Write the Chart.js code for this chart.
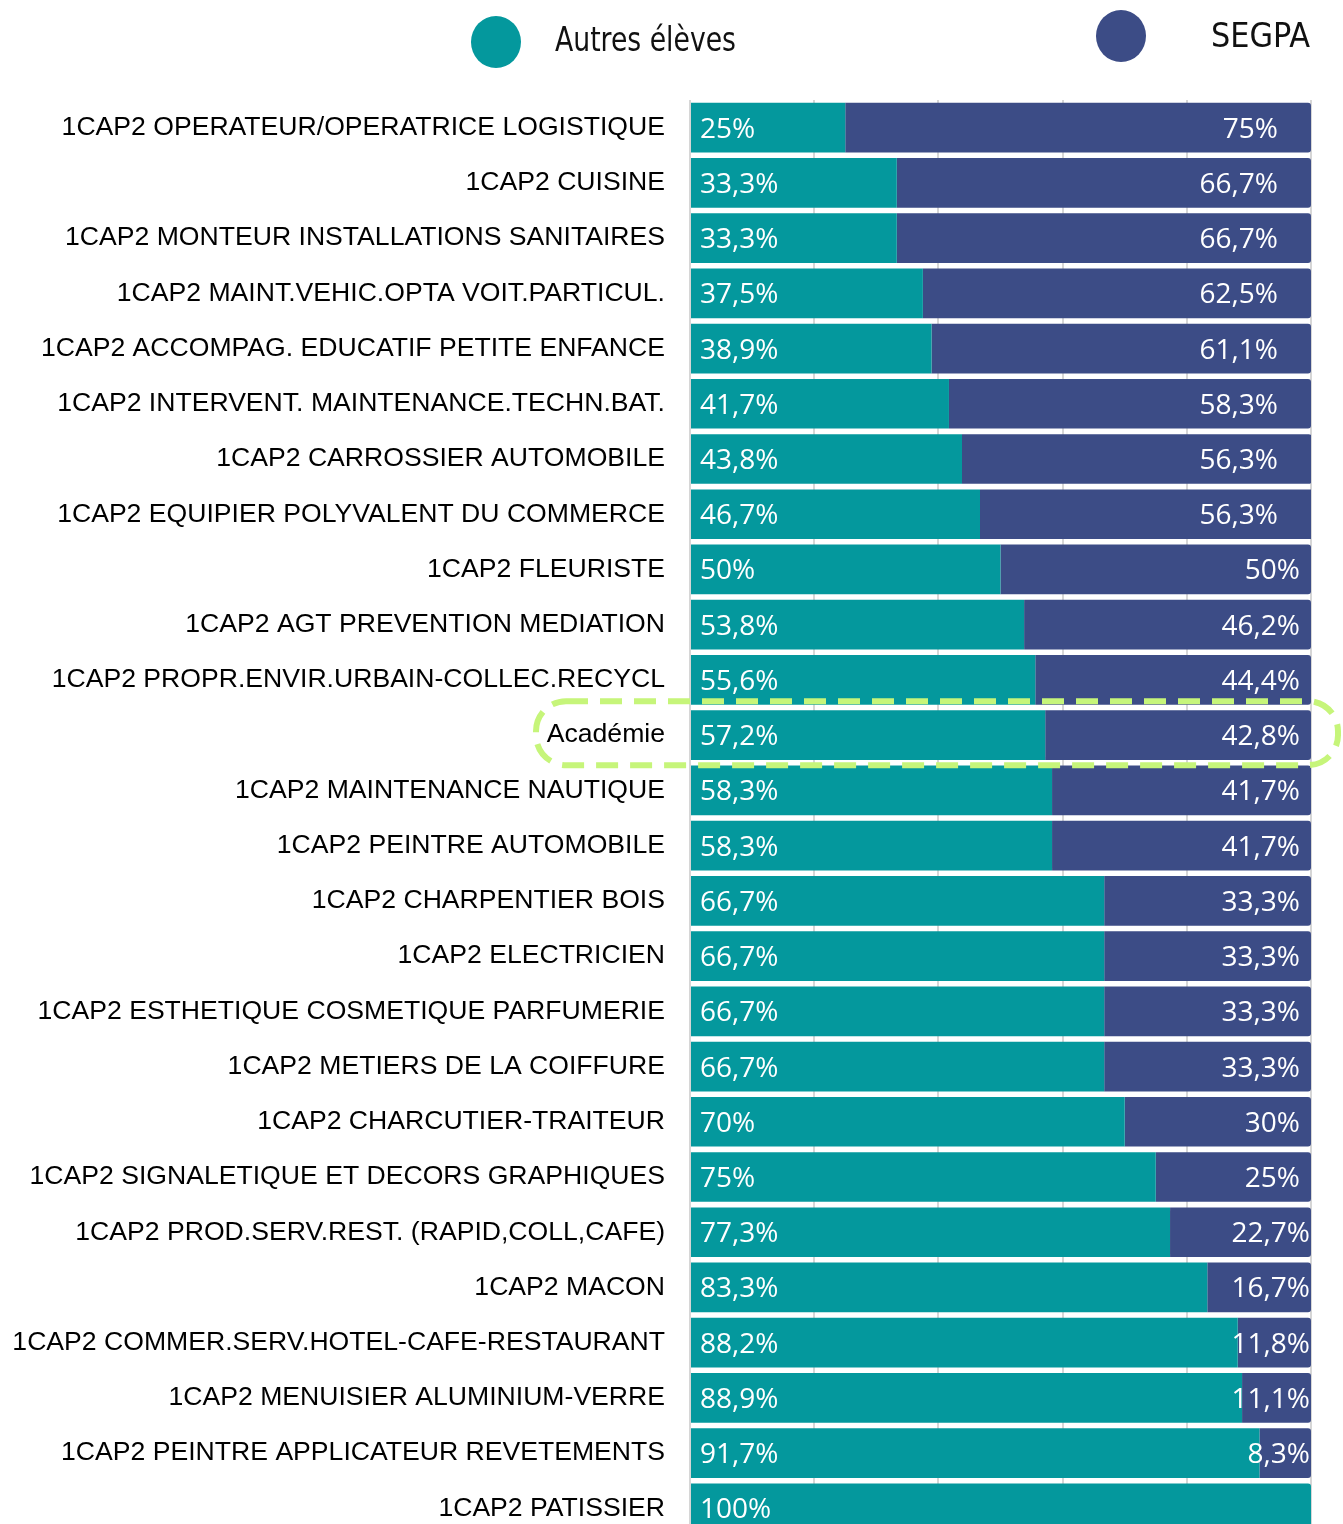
<!DOCTYPE html>
<html>
<head>
<meta charset="utf-8">
<script src="https://cdn.jsdelivr.net/npm/chart.js@4"></script>
<style>
  html, body { margin: 0; padding: 0; background: #fff; overflow: hidden; }
  #segpaChart { position: absolute; left: 0; top: 0; }
</style>
</head>
<body>
<canvas id="segpaChart" width="1343" height="1536"></canvas>
<script>
const formations = [
    '1CAP2 OPERATEUR/OPERATRICE LOGISTIQUE',
    '1CAP2 CUISINE',
    '1CAP2 MONTEUR INSTALLATIONS SANITAIRES',
    '1CAP2 MAINT.VEHIC.OPTA VOIT.PARTICUL.',
    '1CAP2 ACCOMPAG. EDUCATIF PETITE ENFANCE',
    '1CAP2 INTERVENT. MAINTENANCE.TECHN.BAT.',
    '1CAP2 CARROSSIER AUTOMOBILE',
    '1CAP2 EQUIPIER POLYVALENT DU COMMERCE',
    '1CAP2 FLEURISTE',
    '1CAP2 AGT PREVENTION MEDIATION',
    '1CAP2 PROPR.ENVIR.URBAIN-COLLEC.RECYCL',
    'Académie',
    '1CAP2 MAINTENANCE NAUTIQUE',
    '1CAP2 PEINTRE AUTOMOBILE',
    '1CAP2 CHARPENTIER BOIS',
    '1CAP2 ELECTRICIEN',
    '1CAP2 ESTHETIQUE COSMETIQUE PARFUMERIE',
    '1CAP2 METIERS DE LA COIFFURE',
    '1CAP2 CHARCUTIER-TRAITEUR',
    '1CAP2 SIGNALETIQUE ET DECORS GRAPHIQUES',
    '1CAP2 PROD.SERV.REST. (RAPID,COLL,CAFE)',
    '1CAP2 MACON',
    '1CAP2 COMMER.SERV.HOTEL-CAFE-RESTAURANT',
    '1CAP2 MENUISIER ALUMINIUM-VERRE',
    '1CAP2 PEINTRE APPLICATEUR REVETEMENTS',
    '1CAP2 PATISSIER'
];
const autresEleves = [25, 33.3, 33.3, 37.5, 38.9, 41.7, 43.8, 46.7, 50, 53.8, 55.6, 57.2, 58.3, 58.3,
    66.7, 66.7, 66.7, 66.7, 70, 75, 77.3, 83.3, 88.2, 88.9, 91.7, 100];
const segpa = [75, 66.7, 66.7, 62.5, 61.1, 58.3, 56.3, 56.3, 50, 46.2, 44.4, 42.8, 41.7, 41.7,
    33.3, 33.3, 33.3, 33.3, 30, 25, 22.7, 16.7, 11.8, 11.1, 8.3, 0];
const xTicks = [0, 20, 40, 60, 80, 100];
const highlighted = 'Académie';

const teal = '#04989d';
const navy = '#3c4c86';

function fmt(v) {
    return String(v).replace('.', ',') + '%';
}

// value labels inside the bars
const barLabels = {
    id: 'barLabels',
    afterDatasetsDraw(chart) {
        const ctx = chart.ctx;
        const area = chart.chartArea;
        ctx.save();
        ctx.font = '28px "Open Sans"';
        ctx.fillStyle = '#fff';
        ctx.textBaseline = 'middle';
        chart.data.datasets.forEach((ds, di) => {
            chart.getDatasetMeta(di).data.forEach((bar, i) => {
                const v = ds.data[i];
                if (!v) return;
                if (di === 0) {
                    ctx.textAlign = 'left';
                    ctx.fillText(fmt(v), Math.min(bar.base, bar.x) + 9, bar.y + 2);
                } else {
                    const pad = v >= 55 ? 33 : (v >= 25 ? 11 : 1);
                    ctx.textAlign = 'right';
                    ctx.fillText(fmt(v), Math.min(bar.x, area.right) - pad, bar.y + 2);
                }
            });
        });
        ctx.restore();
    }
};

// dashed frame around the Académie row
const highlightRow = {
    id: 'highlightRow',
    afterDraw(chart) {
        const y = chart.scales.y;
        const idx = chart.data.labels.indexOf(highlighted);
        if (idx < 0) return;
        const cy = y.getPixelForValue(idx);
        const ctx = chart.ctx;
        ctx.save();
        ctx.strokeStyle = '#c6f57a';
        ctx.lineWidth = 6;
        ctx.setLineDash([22, 12]);
        ctx.beginPath();
        ctx.roundRect(536, cy - 34, 802, 64, 30);
        ctx.stroke();
        ctx.restore();
    }
};

// legend drawn at the top
const topLegend = {
    id: 'topLegend',
    afterDraw(chart) {
        const ctx = chart.ctx;
        const spots = [{ cx: 496, cy: 42, tx: 555, ty: 42, w: 181 }, { cx: 1121, cy: 36, tx: 1211, ty: 38, w: 99 }];
        ctx.save();
        chart.data.datasets.forEach((ds, i) => {
            const s = spots[i];
            ctx.fillStyle = ds.backgroundColor;
            ctx.beginPath();
            ctx.ellipse(s.cx, s.cy, 25, 26, 0, 0, Math.PI * 2);
            ctx.fill();
            ctx.fillStyle = '#111';
            ctx.font = '34px "DejaVu Sans Condensed", "DejaVu Sans", sans-serif';
            ctx.textAlign = 'left';
            ctx.textBaseline = 'middle';
            ctx.fillText(ds.label, s.tx, s.ty, s.w);
        });
        ctx.restore();
    }
};

const segpaCtx = document.getElementById('segpaChart').getContext('2d');
const segpaChart = new Chart(segpaCtx, {
    type: 'bar',
    data: {
        labels: formations,
        datasets: [{
            label: 'Autres élèves',
            data: autresEleves,
            backgroundColor: teal,
            borderRadius: 3,
            clip: 0
        }, {
            label: 'SEGPA',
            data: segpa,
            backgroundColor: navy,
            borderRadius: 3,
            clip: 0
        }]
    },
    options: {
        indexAxis: 'y',
        responsive: false,
        animation: false,
        devicePixelRatio: 1,
        categoryPercentage: 1,
        barPercentage: 0.9,
        layout: { padding: { top: 100, right: 32, bottom: 0, left: 0 } },
        plugins: {
            legend: { display: false },
            tooltip: { enabled: false }
        },
        scales: {
            x: {
                stacked: true,
                min: 0,
                max: 100,
                afterBuildTicks: (scale) => { scale.ticks = xTicks.map(v => ({ value: v })); },
                afterFit: (scale) => { scale.height = 0; },
                ticks: { display: false },
                grid: { color: '#d6d6d6', lineWidth: 2, drawTicks: false },
                border: { display: false }
            },
            y: {
                stacked: true,
                afterFit: (scale) => {
                    scale.width = 690;
                    scale.paddingTop = 0;
                    scale.paddingBottom = 0;
                },
                grid: { display: false, drawTicks: false },
                border: { display: false },
                ticks: {
                    padding: 25,
                    color: '#000',
                    font: { family: '"Liberation Sans", Arial, sans-serif', size: 26.6 }
                }
            }
        }
    },
    plugins: [barLabels, highlightRow, topLegend]
});
</script>
</body>
</html>
